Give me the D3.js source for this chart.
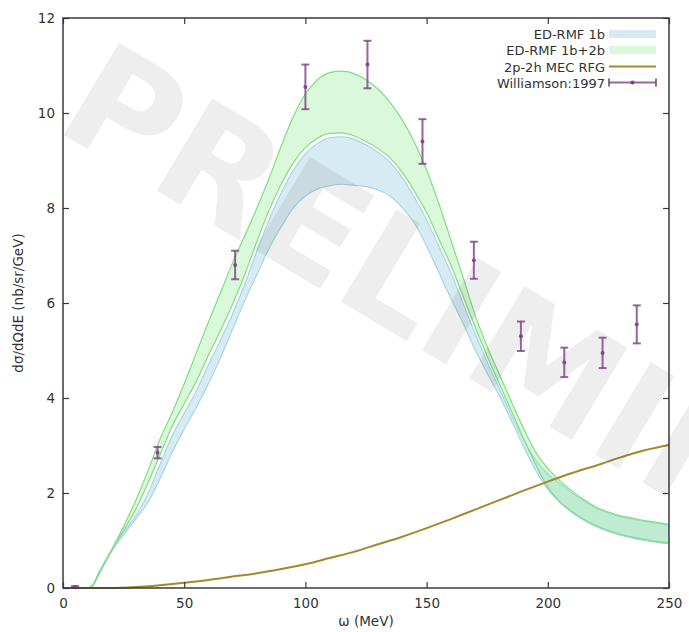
<!DOCTYPE html>
<html>
<head>
<meta charset="utf-8">
<script src="https://cdn.jsdelivr.net/npm/d3@7"></script>
<style>
  body { margin: 0; background: #fff; }
  svg { display: block; }
  text { font-family: "DejaVu Sans", sans-serif; fill: #333; }
</style>
</head>
<body>
<svg id="chart" width="689" height="632"></svg>
<script>
// Energy transfer grid (MeV) for the model bands
const omega = [10, 12, 15, 20, 25, 30, 35, 40, 45, 50, 55, 60, 65, 70, 75, 80, 85, 90, 95, 100,
  105, 110, 115, 120, 125, 130, 135, 140, 145, 150, 155, 160, 165, 170, 175, 180, 185, 190, 195, 200,
  205, 210, 215, 220, 225, 230, 235, 240, 245, 250];

// ED-RMF 1b band (lower / upper edge)
const rmf1bLow = [0, 0.03, 0.3, 0.76, 1.12, 1.45, 1.8, 2.3, 2.85, 3.35, 3.8, 4.3, 4.85, 5.45, 6.05, 6.6, 7.15, 7.6, 8.0, 8.25,
  8.4, 8.47, 8.5, 8.48, 8.45, 8.38, 8.25, 8.0, 7.68, 7.2, 6.65, 6.1, 5.58, 5.02, 4.52, 4.05, 3.52, 2.98, 2.48, 2.08,
  1.8, 1.59, 1.42, 1.29, 1.19, 1.11, 1.05, 1.0, 0.96, 0.93];
const rmf1bHigh = [0, 0.03, 0.32, 0.78, 1.18, 1.52, 1.98, 2.6, 3.2, 3.68, 4.15, 4.7, 5.22, 5.78, 6.4, 7.1, 7.75, 8.32, 8.8, 9.14,
  9.36, 9.48, 9.5, 9.45, 9.33, 9.17, 8.96, 8.64, 8.22, 7.75, 7.2, 6.64, 6.0, 5.36, 4.76, 4.2, 3.64, 3.12, 2.7, 2.4,
  2.2, 2.0, 1.83, 1.68, 1.58, 1.5, 1.45, 1.4, 1.36, 1.32];

// ED-RMF 1b+2b band (lower / upper edge)
const rmf2bLow = [0, 0.04, 0.33, 0.8, 1.22, 1.65, 2.2, 2.8, 3.4, 3.88, 4.35, 4.9, 5.42, 5.98, 6.6, 7.3, 7.95, 8.5, 8.95, 9.27,
  9.47, 9.57, 9.58, 9.52, 9.4, 9.25, 9.05, 8.75, 8.35, 7.9, 7.35, 6.8, 6.15, 5.5, 4.88, 4.3, 3.72, 3.15, 2.6, 2.12,
  1.82, 1.61, 1.44, 1.31, 1.21, 1.13, 1.07, 1.02, 0.98, 0.95];
const rmf2bHigh = [0, 0.05, 0.35, 0.8, 1.3, 1.84, 2.46, 3.13, 3.69, 4.3, 4.95, 5.6, 6.22, 6.85, 7.42, 8.0, 8.62, 9.3, 9.92, 10.4,
  10.7, 10.85, 10.88, 10.83, 10.7, 10.5, 10.22, 9.85, 9.38, 8.8, 8.1, 7.33, 6.55, 5.75, 5.08, 4.5, 3.92, 3.36, 2.86, 2.52,
  2.26, 2.04, 1.86, 1.7, 1.6, 1.52, 1.47, 1.42, 1.38, 1.34];

// 2p-2h MEC RFG curve
const mecOmega = [0, 10, 20, 30, 40, 50, 60, 70, 80, 90, 100, 110, 120, 130, 140, 150, 160, 170, 180, 190, 200, 210, 220, 230, 240, 250];
const mecValue = [0, 0, 0, 0.02, 0.06, 0.11, 0.17, 0.24, 0.31, 0.4, 0.5, 0.63, 0.76, 0.92, 1.08, 1.26, 1.45, 1.65, 1.85, 2.05, 2.24, 2.42, 2.58, 2.75, 2.9, 3.01];

// Williamson:1997 data
const dataOmega = [5, 39, 71, 100, 125.6, 148.3, 169.5, 188.9, 206.8, 222.6, 236.7];
const dataValue = [0.02, 2.85, 6.8, 10.55, 11.02, 9.4, 6.9, 5.3, 4.75, 4.95, 5.55];
const dataError = [0.02, 0.12, 0.3, 0.47, 0.5, 0.47, 0.39, 0.31, 0.31, 0.32, 0.4];

const xTicks = [0, 50, 100, 150, 200, 250];
const yTicks = [0, 2, 4, 6, 8, 10, 12];

const seriesNames = ["ED-RMF 1b", "ED-RMF 1b+2b", "2p-2h MEC RFG", "Williamson:1997"];

const svg = d3.select("#chart");
const margin = { left: 63, right: 20, top: 18, bottom: 44 };
const W = 689, H = 632;

const x = d3.scaleLinear().domain([0, 250]).range([margin.left, W - margin.right]);
const y = d3.scaleLinear().domain([0, 12]).range([H - margin.bottom, margin.top]);

const blueFill = "#add8e6", blueEdge = "#a3d2e4";
const greenFill = "#90ee90", greenEdge = "#80de80";
const mecColor = "#a8862c";
const dataColor = "#7e3f86";

const bandArea = (lo, hi) => d3.area()
  .x((d, i) => x(omega[i]))
  .y0((d, i) => y(lo[i]))
  .y1((d, i) => y(hi[i]))
  .curve(d3.curveMonotoneX)(omega);
const edgeLine = (vals) => d3.line()
  .x((d, i) => x(omega[i]))
  .y((d, i) => y(vals[i]))
  .curve(d3.curveMonotoneX)(omega);

const plot = svg.append("g");

// ED-RMF 1b band
plot.append("path").attr("d", bandArea(rmf1bLow, rmf1bHigh))
  .attr("fill", blueFill).attr("fill-opacity", 0.5);
[rmf1bLow, rmf1bHigh].forEach(v => plot.append("path").attr("d", edgeLine(v))
  .attr("fill", "none").attr("stroke", blueEdge).attr("stroke-width", 1.1));

// ED-RMF 1b+2b band
plot.append("path").attr("d", bandArea(rmf2bLow, rmf2bHigh))
  .attr("fill", greenFill).attr("fill-opacity", 0.33);
[rmf2bLow, rmf2bHigh].forEach(v => plot.append("path").attr("d", edgeLine(v))
  .attr("fill", "none").attr("stroke", greenEdge).attr("stroke-width", 1.2));

// MEC curve
plot.append("path")
  .attr("d", d3.line().x((d, i) => x(mecOmega[i])).y(d => y(d)).curve(d3.curveMonotoneX)(mecValue))
  .attr("fill", "none").attr("stroke", mecColor).attr("stroke-width", 2);

// Watermark
svg.append("text")
  .attr("transform", "translate(52,128) rotate(31)")
  .attr("font-size", 148).attr("font-weight", "bold")
  .style("fill", "#000").style("fill-opacity", 0.068)
  .text("PRELIMINARY");

// Data with error bars
const cap = 4;
const pts = svg.append("g").attr("stroke", dataColor).attr("stroke-opacity", 0.8).attr("stroke-width", 2);
dataOmega.forEach((w, i) => {
  const cx = x(w), y0 = y(dataValue[i] - dataError[i]), y1 = y(dataValue[i] + dataError[i]);
  pts.append("line").attr("x1", cx).attr("x2", cx).attr("y1", y0).attr("y2", y1);
  pts.append("line").attr("x1", cx - cap).attr("x2", cx + cap).attr("y1", y0).attr("y2", y0);
  pts.append("line").attr("x1", cx - cap).attr("x2", cx + cap).attr("y1", y1).attr("y2", y1);
  pts.append("circle").attr("cx", cx).attr("cy", y(dataValue[i])).attr("r", 2)
    .attr("fill", dataColor).attr("stroke", "none").attr("fill-opacity", 0.9);
});

// Frame and ticks (mirrored on all sides, pointing inward)
const frameColor = "#3a3a3a";
const x0 = x(0), x1 = x(250), yb = y(0), yt = y(12);
svg.append("rect").attr("x", x0).attr("y", yt).attr("width", x1 - x0).attr("height", yb - yt)
  .attr("fill", "none").attr("stroke", frameColor).attr("stroke-width", 1.5);

const tickLen = 6;
const axB = svg.append("g").attr("transform", `translate(0,${yb})`)
  .call(d3.axisBottom(x).tickValues(xTicks).tickSize(-tickLen).tickPadding(10).tickFormat(d3.format("d")));
const axT = svg.append("g").attr("transform", `translate(0,${yt})`)
  .call(d3.axisTop(x).tickValues(xTicks).tickSize(-tickLen).tickFormat(""));
const axL = svg.append("g").attr("transform", `translate(${x0},0)`)
  .call(d3.axisLeft(y).tickValues(yTicks).tickSize(-tickLen).tickPadding(8).tickFormat(d3.format("d")));
const axR = svg.append("g").attr("transform", `translate(${x1},0)`)
  .call(d3.axisRight(y).tickValues(yTicks).tickSize(-tickLen).tickFormat(""));
[axB, axT, axL, axR].forEach(a => {
  a.select(".domain").remove();
  a.selectAll(".tick line").attr("stroke", frameColor).attr("stroke-width", 1.2);
  a.selectAll(".tick text").attr("font-size", 13.5).attr("font-family", "DejaVu Sans, sans-serif").style("fill", "#333");
});

// Axis titles
svg.append("text").attr("x", (x0 + x1) / 2).attr("y", 626).attr("text-anchor", "middle")
  .attr("font-size", 13.5).text("ω (MeV)");
svg.append("text").attr("transform", `translate(23,${(yb + yt) / 2}) rotate(-90)`)
  .attr("text-anchor", "middle").attr("font-size", 13.5).text("dσ/dΩdE (nb/sr/GeV)");

// Legend
const legX = 605, legY = [39, 55, 71.5, 87.5], swA = 609, swB = 656;
const leg = svg.append("g");
seriesNames.forEach((n, i) => {
  leg.append("text").attr("x", legX).attr("y", legY[i]).attr("text-anchor", "end")
    .attr("font-size", 13).text(n);
});
leg.append("rect").attr("x", swA).attr("y", legY[0] - 9).attr("width", swB - swA).attr("height", 8)
  .attr("fill", blueFill).attr("fill-opacity", 0.5);
leg.append("rect").attr("x", swA).attr("y", legY[1] - 9).attr("width", swB - swA).attr("height", 8)
  .attr("fill", greenFill).attr("fill-opacity", 0.33);
leg.append("line").attr("x1", swA).attr("x2", swB).attr("y1", legY[2] - 5).attr("y2", legY[2] - 5)
  .attr("stroke", mecColor).attr("stroke-width", 2);
const ly = legY[3] - 5;
const lg = leg.append("g").attr("stroke", dataColor).attr("stroke-opacity", 0.8).attr("stroke-width", 2);
lg.append("line").attr("x1", swA).attr("x2", swB).attr("y1", ly).attr("y2", ly);
lg.append("line").attr("x1", swA).attr("x2", swA).attr("y1", ly - cap).attr("y2", ly + cap);
lg.append("line").attr("x1", swB).attr("x2", swB).attr("y1", ly - cap).attr("y2", ly + cap);
lg.append("circle").attr("cx", (swA + swB) / 2).attr("cy", ly).attr("r", 2).attr("fill", dataColor).attr("stroke", "none");
</script>
</body>
</html>
